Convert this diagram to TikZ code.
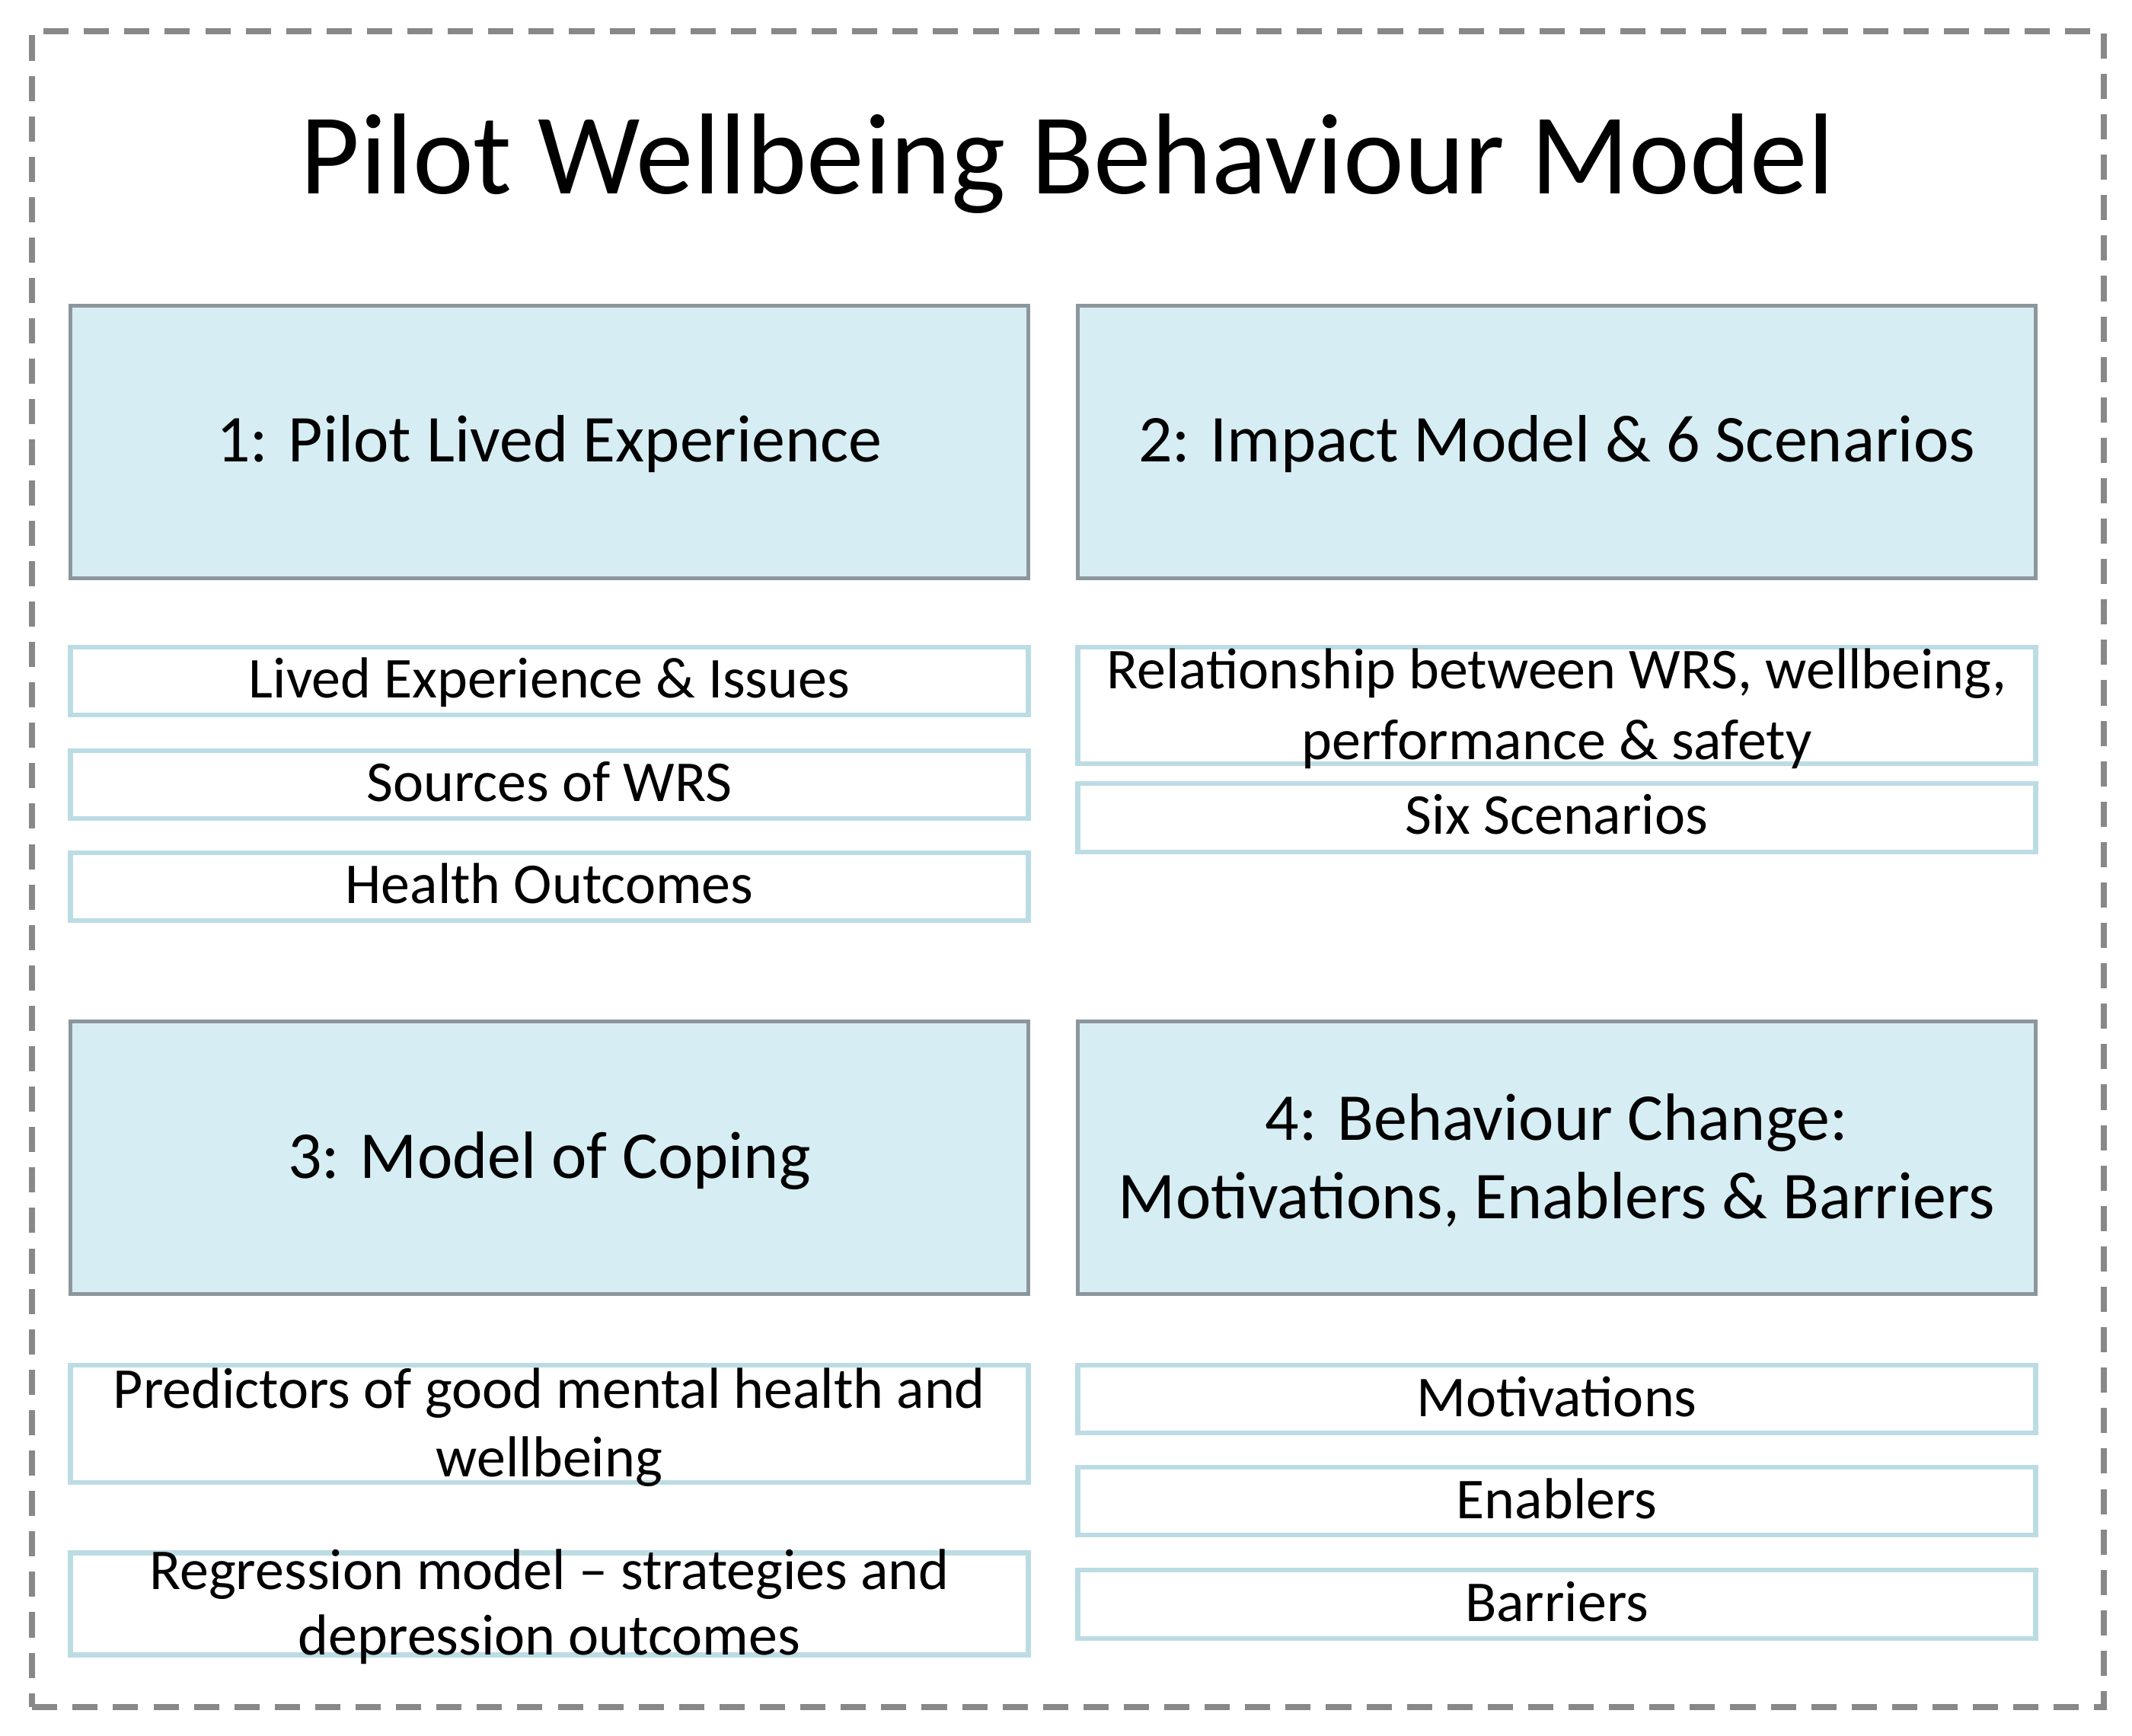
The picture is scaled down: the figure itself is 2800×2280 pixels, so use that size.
\documentclass[tikz,border=0pt]{standalone}
\usepackage{fontspec}
\setmainfont{Carlito}
\definecolor{hdrfill}{HTML}{D6EDF3}
\definecolor{hdrline}{HTML}{8C969B}
\definecolor{subline}{HTML}{BCDCE4}
\definecolor{frameline}{HTML}{888888}
\newcommand{\twolines}[2]{\begin{tabular}[t]{@{}c@{}}#1\\#2\end{tabular}}
\begin{document}
\begin{tikzpicture}[x=0.01cm,y=-0.01cm,
  frame/.style={draw=frameline, line width=2.3pt, dash pattern=on 9.4pt off 5.7pt, inner sep=0pt, outer sep=0pt, minimum width=27.19cm, minimum height=21.99cm},
  hdrbox/.style={draw=hdrline, fill=hdrfill, line width=1.3pt, inner sep=0pt, outer sep=0pt, minimum width=12.57cm, minimum height=3.58cm},
  subbox/.style={draw=subline, fill=white, line width=1.8pt, inner sep=0pt, outer sep=0pt, minimum width=12.57cm},
  titletxt/.style={anchor=base, inner sep=0pt, font=\fontsize{43}{50}\selectfont},
  hdrtxt/.style={anchor=base, inner sep=0pt, font=\fontsize{25}{29.3}\selectfont},
  subtxt/.style={anchor=base, inner sep=0pt, font=\fontsize{21.6}{25.9}\selectfont}
]
\useasboundingbox (0,0) rectangle (2800,2280);
\fill[white] (0,0) rectangle (2800,2280);

% outer dashed frame
\node[frame] (frame) at (1402.5,1141.5) {};

% title
\node[titletxt] (title) at (1402,255) {Pilot Wellbeing Behaviour Model};

% header boxes
\node[hdrbox] (h1) at (721.5,580.5) {};
\node[hdrbox] (h2) at (2044.5,580.5) {};
\node[hdrbox] (h3) at (721.5,1520.5) {};
\node[hdrbox] (h4) at (2044.5,1520.5) {};
\node[hdrtxt] (h1t) at (721.5,607) {1: Pilot Lived Experience};
\node[hdrtxt] (h2t) at (2044.5,607) {2: Impact Model \& 6 Scenarios};
\node[hdrtxt] (h3t) at (721.5,1547) {3: Model of Coping};
\node[hdrtxt] (h4t) at (2044.5,1497) {\fontsize{25}{29.3}\selectfont\twolines{4: Behaviour Change:}{Motivations, Enablers \& Barriers}};

% sub boxes, column 1
\node[subbox, minimum height=0.89cm] (l1) at (721.5,894.5) {};
\node[subbox, minimum height=0.89cm] (l2) at (721.5,1030.5) {};
\node[subbox, minimum height=0.89cm] (l3) at (721.5,1164.5) {};
\node[subtxt] (l1t) at (721.5,917) {Lived Experience \& Issues};
\node[subtxt] (l2t) at (721.5,1053) {Sources of WRS};
\node[subtxt] (l3t) at (721.5,1187) {Health Outcomes};

% sub boxes, column 2
\node[subbox, minimum height=1.53cm] (r1) at (2044.5,926.5) {};
\node[subbox, minimum height=0.90cm] (r2) at (2044.5,1074) {};
\node[subtxt] (r1t) at (2044.5,905) {\fontsize{21.6}{26.2}\selectfont\twolines{Relationship between WRS, wellbeing,}{performance \& safety}};
\node[subtxt] (r2t) at (2044.5,1096) {Six Scenarios};

% sub boxes, column 3
\node[subbox, minimum height=1.54cm] (bl1) at (721.5,1870) {};
\node[subbox, minimum height=1.34cm] (bl2) at (721.5,2106.5) {};
\node[subtxt] (bl1t) at (721.5,1849) {\fontsize{21.6}{25.6}\selectfont\twolines{Predictors of good mental health and}{wellbeing}};
\node[subtxt] (bl2t) at (721.5,2087) {\fontsize{21.6}{24.6}\selectfont\twolines{Regression model – strategies and}{depression outcomes}};

% sub boxes, column 4
\node[subbox, minimum height=0.89cm] (br1) at (2044.5,1837.5) {};
\node[subbox, minimum height=0.89cm] (br2) at (2044.5,1971.5) {};
\node[subbox, minimum height=0.90cm] (br3) at (2044.5,2107) {};
\node[subtxt] (br1t) at (2044.5,1860) {Motivations};
\node[subtxt] (br2t) at (2044.5,1994) {Enablers};
\node[subtxt] (br3t) at (2044.5,2129) {Barriers};
\end{tikzpicture}
\end{document}
